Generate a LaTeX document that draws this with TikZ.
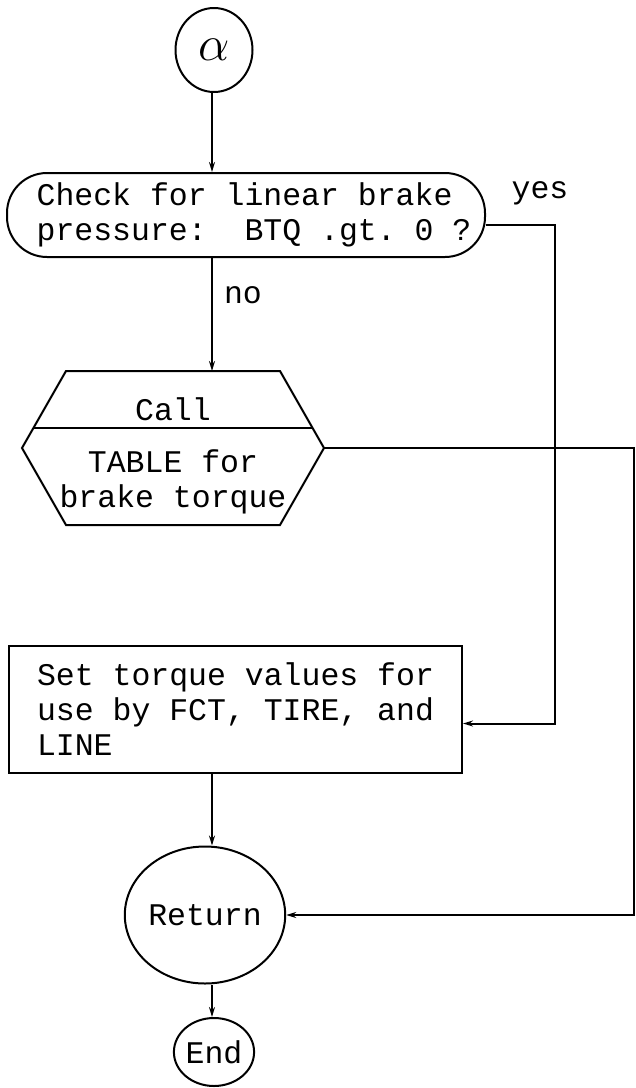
\documentclass[tikz,border=0pt]{standalone}
\usepackage{fontspec}
\setmonofont{Liberation Mono}
\usetikzlibrary{positioning, arrows.meta, shapes.geometric, calc}

\begin{document}
\begin{tikzpicture}[
  x=0.5pt, y=-0.5pt,
  line width=1pt,
  txt/.style={font=\ttfamily\fontsize{15.75}{17.5}\selectfont},
  flow/.style={-{Stealth[length=5pt,width=3pt]}},
  connector/.style={draw, ellipse, inner sep=0pt},
  procbox/.style={draw, txt, align=left, inner sep=0pt},
]
\useasboundingbox (0,0) rectangle (636,1088);

% Hilfspunkte
\coordinate (axis) at (212,0);
\coordinate (yesrail) at (555,0);
\coordinate (rail) at (634,0);

% Knoten
\node[connector, minimum width=38.5pt, minimum height=42pt] (alpha) at (214,50)
  {\fontsize{24.88}{24.88}\selectfont$\alpha$};

\node[procbox, rounded corners=20pt, minimum width=239pt, minimum height=42pt] (check) at (246,215)
  {\hspace*{8pt}Check for linear brake\\\hspace*{8pt}pressure:~ BTQ .gt. 0 ?};

\node[txt, align=center, minimum width=150pt, minimum height=76pt, inner sep=0pt] (call) at (173,448)
  {\rule{0pt}{19pt}Call\\[8.5pt]TABLE for\\brake torque};
\draw (call.west) -- ([xshift=22pt]call.north west) -- ([xshift=-22pt]call.north east)
  -- (call.east) -- ([xshift=-22pt]call.south east) -- ([xshift=22pt]call.south west) -- cycle;
\draw ($(call.west)!0.26!([xshift=22pt]call.north west)$)
  -- ($(call.east)!0.26!([xshift=-22pt]call.north east)$);

\node[procbox, minimum width=226.5pt, minimum height=63.5pt] (setbox) at (235.5,709.5)
  {Set torque values for\\use by FCT, TIRE, and\\LINE};

\node[connector, txt, minimum width=62pt, minimum height=68.5pt] (ret) at (205,915) {Return};
\node[connector, txt, minimum width=32.5pt, minimum height=34pt] (endc) at (214,1052) {End};

% Beschriftungen
\node[txt] (yes) at (540,193) {yes};
\node[txt] (no) at (243,295) {no};

% Verbindungen
\coordinate (yesout) at ($(check.east)+(0,10)$);
\coordinate (yesin) at ($(setbox.east)+(0,14)$);

\draw[flow] (axis |- alpha.south) -- (axis |- check.north);
\draw[flow] (axis |- check.south) -- (axis |- call.north);
\draw[flow] (yesout) -- (yesout -| yesrail) |- (yesin);
\draw[flow] (call.east) -- (call.east -| rail) |- (ret.east);
\draw[flow] (axis |- setbox.south) -- (axis |- ret.north);
\draw[flow] (axis |- ret.south) -- (axis |- endc.north);

\end{tikzpicture}
\end{document}
